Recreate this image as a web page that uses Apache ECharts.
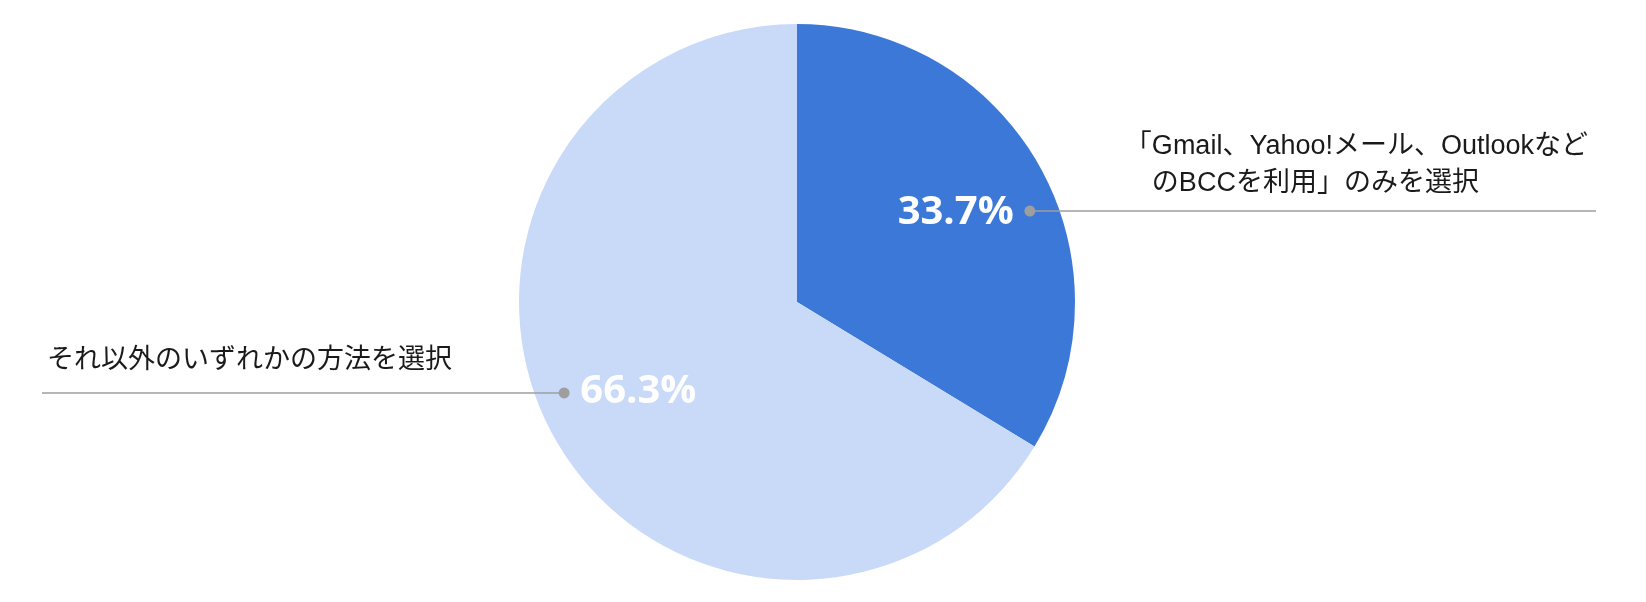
<!DOCTYPE html>
<html>
<head>
<meta charset="utf-8">
<script src="https://cdn.jsdelivr.net/npm/echarts@6/dist/echarts.min.js"></script>
<style>html,body{margin:0;padding:0;background:#fff}#c{width:1646px;height:602px}</style>
</head>
<body>
<div id="c"></div>
<script>
const categories = ['「Gmail、Yahoo!メール、Outlookなど\n　のBCCを利用」のみを選択', 'それ以外のいずれかの方法を選択'];
const values = [33.7, 66.3];
const colors = ['#3c78d8', '#c9daf8'];

const chart = echarts.init(document.getElementById('c'), null, {renderer: 'canvas'});
const center = [797, 302];
const R = 278;
const labelFont = "'Liberation Sans', 'Noto Sans CJK JP', sans-serif";
const data = categories.map((n, i) => ({name: n, value: values[i], itemStyle: {color: colors[i]}}));
const clearData = categories.map((n, i) => ({name: n, value: values[i]}));
const clear = {color: 'rgba(0,0,0,0)'};

function sideOf(p) {
  const x0 = p.labelLinePoints[0][0];
  return p.labelRect.x + p.labelRect.width / 2 > x0 ? 1 : -1;
}

chart.setOption({
  animation: false,
  series: [
    {
      type: 'pie', center: center, radius: [0, R], startAngle: 90, z: 1,
      data: data, silent: true,
      label: {show: false}, labelLine: {show: false}
    },
    {
      type: 'pie', center: center, radius: [100, 258], startAngle: 90, z: 3,
      data: clearData, silent: true, itemStyle: clear, avoidLabelOverlap: false,
      label: {show: true, position: 'inside', formatter: '{c}%', color: '#fff',
        fontSize: 40, fontWeight: 'bold', fontFamily: "'Open Sans', sans-serif"},
      labelLine: {show: false}
    },
    {
      type: 'pie', center: center, radius: [0, 250], startAngle: 82, z: 4,
      data: clearData, silent: true, itemStyle: clear, avoidLabelOverlap: false,
      label: {show: true, position: 'outside', formatter: '{b}', color: '#1a1a1a',
        fontSize: 27, lineHeight: 37, fontFamily: labelFont},
      labelLine: {show: true, showAbove: true, length: 1, length2: 10, smooth: false,
        lineStyle: {color: '#9e9e9e', width: 1.5}},
      labelLayout: function (p) {
        const x0 = p.labelLinePoints[0][0], y0 = p.labelLinePoints[0][1];
        const W = chart.getWidth();
        if (sideOf(p) > 0) {
          const xe = W - 50;
          return {x: xe - 8 - p.labelRect.width, y: y0 - 9, align: 'left', verticalAlign: 'bottom',
            labelLinePoints: [[x0, y0], [x0, y0], [xe, y0]]};
        } else {
          const xs = 42;
          return {x: xs + 5, y: y0 - 14, align: 'left', verticalAlign: 'bottom',
            labelLinePoints: [[x0, y0], [x0, y0], [xs, y0]]};
        }
      }
    },
    {
      type: 'pie', center: center, radius: [0, 250], startAngle: 82, z: 5,
      data: clearData, silent: true, itemStyle: clear, avoidLabelOverlap: false,
      label: {show: true, position: 'outside', formatter: '{d|}',
        rich: {d: {width: 11, height: 11, borderRadius: 5.5, backgroundColor: '#9e9e9e'}}},
      labelLine: {show: true, length: 1, length2: 10, lineStyle: {color: 'rgba(0,0,0,0)', width: 0}},
      labelLayout: function (p) {
        const x0 = p.labelLinePoints[0][0], y0 = p.labelLinePoints[0][1];
        return {x: x0, y: y0, align: 'center', verticalAlign: 'middle',
          labelLinePoints: [[x0, y0], [x0, y0], [x0, y0]]};
      }
    }
  ]
});
</script>
</body>
</html>
